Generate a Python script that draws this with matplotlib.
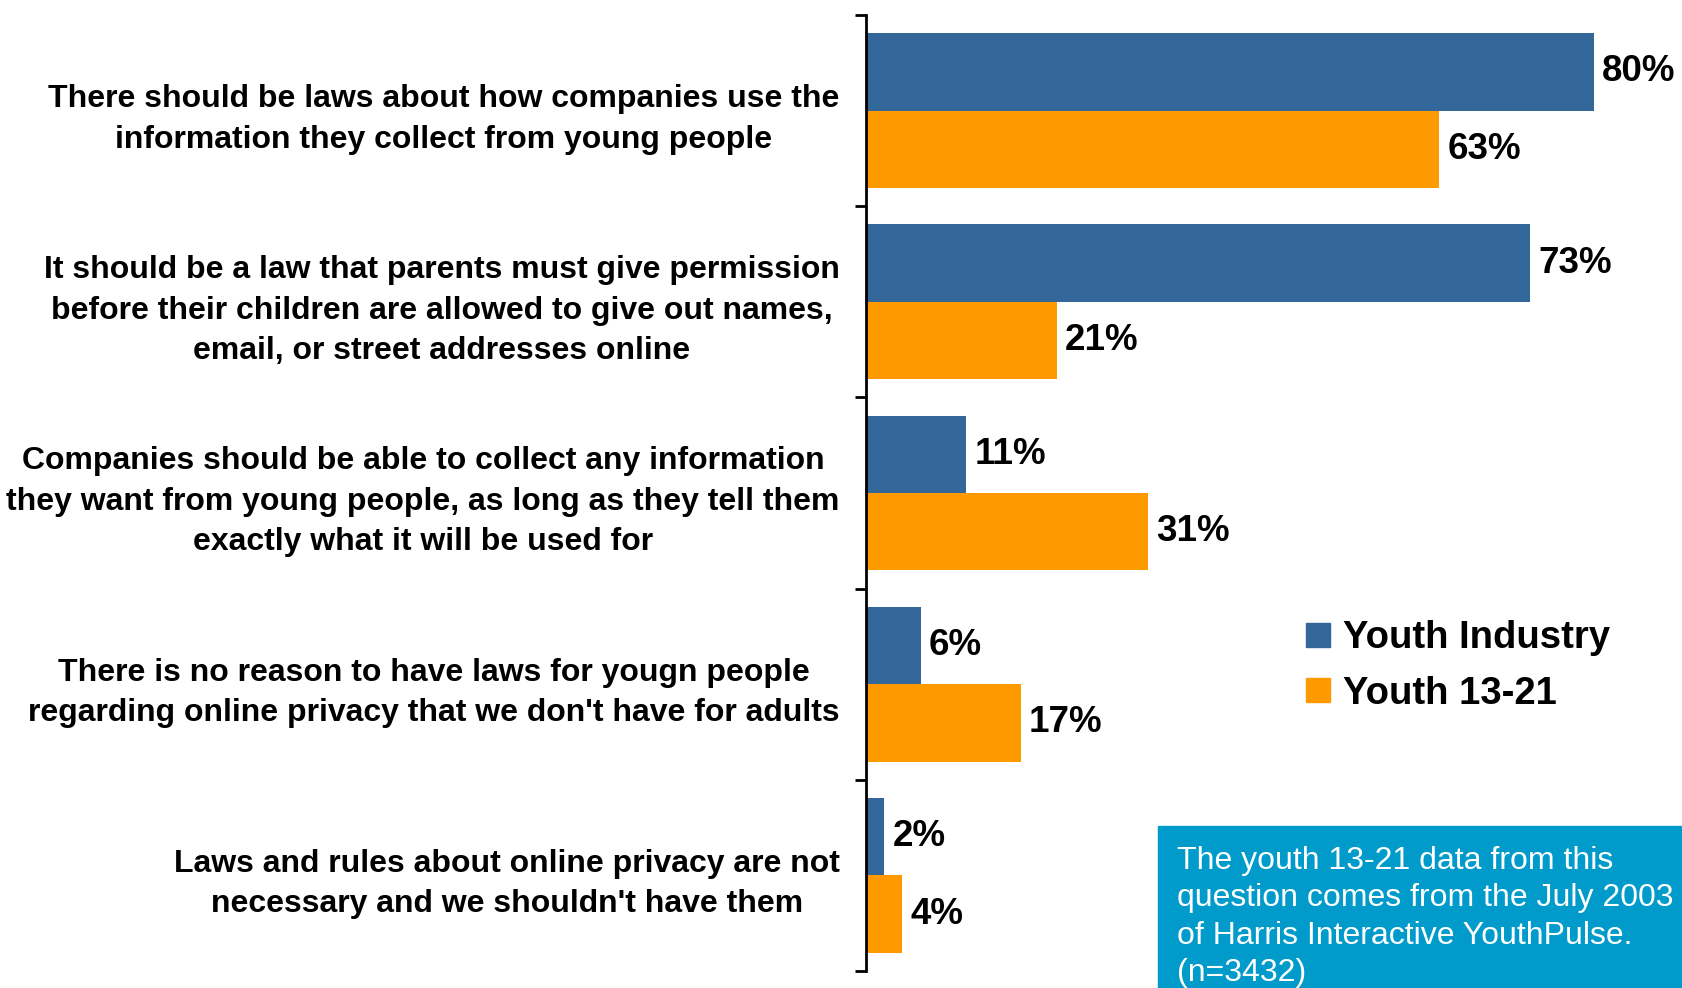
import numpy as np
import matplotlib.pyplot as plt
from matplotlib.patches import Rectangle, Patch

plt.rcParams['font.family'] = ['Liberation Sans', 'DejaVu Sans']

categories = [
    "There should be laws about how companies use the\ninformation they collect from young people",
    "It should be a law that parents must give permission\nbefore their children are allowed to give out names,\nemail, or street addresses online",
    "Companies should be able to collect any information\nthey want from young people, as long as they tell them\nexactly what it will be used for",
    "There is no reason to have laws for yougn people\nregarding online privacy that we don't have for adults",
    "Laws and rules about online privacy are not\nnecessary and we shouldn't have them",
]
industry = [80, 73, 11, 6, 2]
youth = [63, 21, 31, 17, 4]
series_names = ["Youth Industry", "Youth 13-21"]
note = ("The youth 13-21 data from this\nquestion comes from the July 2003\n"
        "of Harris Interactive YouthPulse.\n(n=3432)")

blue = "#336699"
orange = "#FF9900"

fig = plt.figure(figsize=(16.83, 9.88), dpi=100)
ax = fig.add_axes([866 / 1683, 17 / 988, 1 - 866 / 1683, 956 / 988])

y = np.arange(len(categories))
h = 0.405
ax.barh(y - h / 2, industry, height=h, color=blue)
ax.barh(y + h / 2, youth, height=h, color=orange)

for yi, v in zip(y - h / 2, industry):
    ax.text(v + 0.9, yi, f"{v}%", va="center", ha="left",
            fontsize=26.5, fontweight="bold")
for yi, v in zip(y + h / 2, youth):
    ax.text(v + 0.9, yi, f"{v}%", va="center", ha="left",
            fontsize=26.5, fontweight="bold")

ax.set_xlim(0, 89.8)
ax.set_ylim(len(categories) - 0.5, -0.5)
ax.set_xticks([])
ax.set_yticks(y)
ax.set_yticklabels(categories, fontsize=23, fontweight="bold")
for lbl in ax.get_yticklabels():
    lbl.set_multialignment("center")
    lbl.set_linespacing(1.46)
ax.tick_params(axis="y", which="major", length=0, pad=19)
ax.set_yticks(np.arange(len(categories) + 1) - 0.5, minor=True)
ax.tick_params(axis="y", which="minor", length=8, width=2, direction="out")

for s in ["top", "right", "bottom"]:
    ax.spines[s].set_visible(False)
ax.spines["left"].set_linewidth(2)

handles = [Patch(color=blue), Patch(color=orange)]
fig.legend(handles, series_names, loc="center left",
           bbox_to_anchor=(1306 / 1683, 1 - 666 / 988), frameon=False,
           prop={"size": 27.5, "weight": "bold"}, handlelength=0.62,
           handleheight=0.62, handletextpad=0.35, labelspacing=0.5,
           borderpad=0, borderaxespad=0)

fig.patches.append(Rectangle((1158 / 1683, 0), 1 - 1158 / 1683, 162 / 988,
                             transform=fig.transFigure, color="#009BCB",
                             zorder=5))
fig.text(1177 / 1683, 1 - 846 / 988, note, color="white", fontsize=23,
         va="top", ha="left", linespacing=1.32, zorder=6)

fig.savefig("out.png", dpi=100)
